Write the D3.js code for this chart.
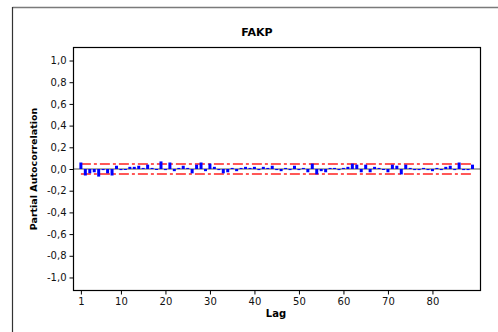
<!DOCTYPE html>
<html><head><meta charset="utf-8">
<script src="https://cdn.jsdelivr.net/npm/d3@7"></script>
<style>body{margin:0;background:#fff;} svg{display:block;font-family:"DejaVu Sans",Verdana,sans-serif;}</style>
</head><body>
<script>
const title = "FAKP";
const xLabel = "Lag";
const yLabel = "Partial Autocorrelation";
const yTicks = [-1.0,-0.8,-0.6,-0.4,-0.2,0.0,0.2,0.4,0.6,0.8,1.0];
const xTicks = [1,10,20,30,40,50,60,70,80];
const limit = 0.046;
const pacf = [
 0.06,-0.06,-0.04,-0.03,-0.07,-0.01,-0.04,-0.06, 0.03,-0.01,
-0.005,0.02, 0.02, 0.03, 0.01, 0.04, 0.01,-0.005,0.07,-0.01,
 0.06,-0.02, 0.01, 0.03, 0.01,-0.04, 0.04, 0.06,-0.02, 0.05,
 0.02,-0.01,-0.04,-0.03, 0.01,-0.02, 0.01, 0.02, 0.01, 0.02,
-0.01, 0.02, 0.01, 0.03,-0.01,-0.02, 0.01,-0.01, 0.03,-0.01,
 0.01,-0.03, 0.05,-0.05,-0.02,-0.03, 0.01, 0.01,-0.01, 0.01,
 0.02, 0.05, 0.04,-0.03, 0.04,-0.03, 0.02, 0.01,-0.005,-0.03,
 0.04, 0.03,-0.05, 0.04, 0.01,-0.01,-0.01, 0.01,-0.01,-0.02,
 0.01,-0.01, 0.02, 0.03,-0.01, 0.06,-0.01,-0.01, 0.04
];
const lags = pacf.map((d,i)=>i+1);

const W = 498, H = 332;
const svg = d3.select("body").append("svg").attr("width",W).attr("height",H);
const pl = 73.5, pt = 47.5, pr = 480.5, pb = 290.5;

// outer frame
svg.append("line").attr("x1",12.5).attr("x2",W).attr("y1",7.5).attr("y2",7.5).attr("stroke","#7a7a7a").attr("stroke-width",1.5);
svg.append("line").attr("x1",12.5).attr("x2",12.5).attr("y1",7).attr("y2",H).attr("stroke","#333").attr("stroke-width",1.2);

const x = d3.scaleLinear().domain([-0.66, 90.8]).range([pl, pr]);
const y = d3.scaleLinear().domain([-1.12, 1.12]).range([pb, pt]);

// zero line
svg.append("line").attr("x1",pl).attr("x2",pr).attr("y1",y(0)).attr("y2",y(0)).attr("stroke","#8c8c8c").attr("stroke-width",1.5);

// limits
[limit,-limit].forEach(v=>{
  svg.append("line").attr("x1",x(1)).attr("x2",x(lags.length)).attr("y1",y(v)).attr("y2",y(v))
    .attr("stroke","#ff2020").attr("stroke-width",1.5).attr("stroke-dasharray","10,3,3,3");
});

// bars
svg.append("g").selectAll("rect").data(pacf).join("rect")
  .attr("x",(d,i)=>x(lags[i])-1.5).attr("width",3)
  .attr("y",d=>y(Math.max(0,d))).attr("height",d=>Math.max(1,Math.abs(y(d)-y(0))))
  .attr("fill","#0000ff");

// plot frame
svg.append("rect").attr("x",pl).attr("y",pt).attr("width",pr-pl).attr("height",pb-pt)
  .attr("fill","none").attr("stroke","#000").attr("stroke-width",1.2);

const fmt = d=>d3.format(".1f")(d).replace(".",",").replace("−","-");
const ya = svg.append("g").attr("transform",`translate(${pl},0)`)
  .call(d3.axisLeft(y).tickValues(yTicks).tickSize(4).tickPadding(3).tickFormat(fmt));
ya.select(".domain").remove();
ya.selectAll("text").attr("font-size",10).attr("fill","#111").style("font-family","DejaVu Sans");
ya.selectAll("line").attr("stroke","#000");

const xa = svg.append("g").attr("transform",`translate(0,${pb})`)
  .call(d3.axisBottom(x).tickValues(xTicks).tickSize(4).tickPadding(3).tickFormat(d3.format("d")));
xa.select(".domain").remove();
xa.selectAll("text").attr("font-size",10).attr("fill","#111").style("font-family","DejaVu Sans");
xa.selectAll("line").attr("stroke","#000");

svg.append("text").attr("x",257).attr("y",35.5).attr("text-anchor","middle")
  .attr("font-size",11).attr("font-weight","bold").text(title);
svg.append("text").attr("x",(pl+pr)/2-1).attr("y",317).attr("text-anchor","middle")
  .attr("font-size",10).attr("font-weight","bold").text(xLabel);
svg.append("text").attr("transform",`translate(36.5,${(pt+pb)/2}) rotate(-90)`).attr("text-anchor","middle")
  .attr("font-size",9.5).attr("font-weight","bold").text(yLabel);
</script>
</body></html>
